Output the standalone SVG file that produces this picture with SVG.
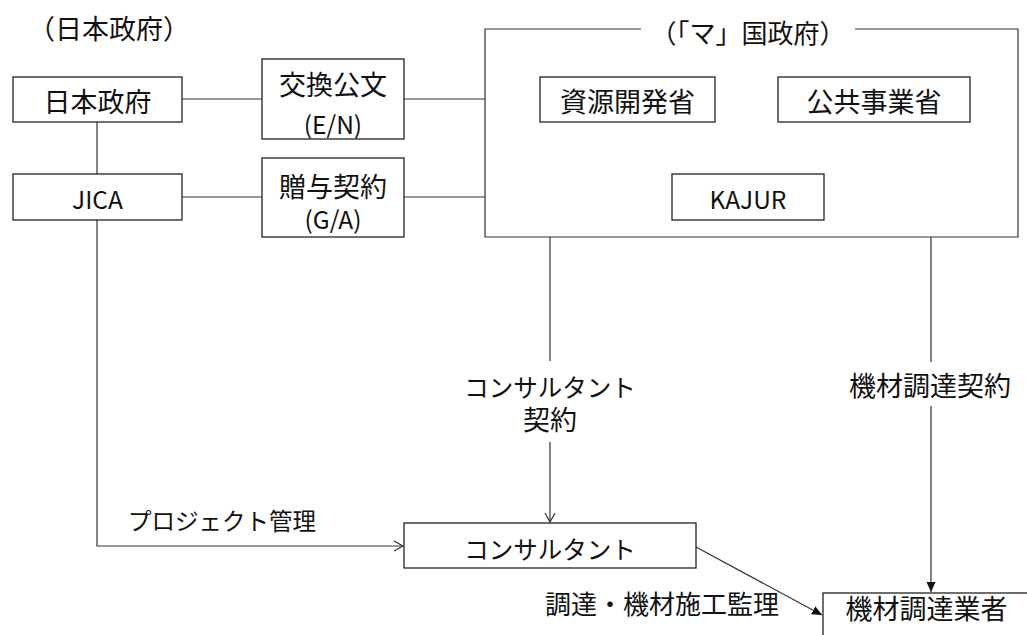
<svg xmlns="http://www.w3.org/2000/svg" width="1027" height="635" viewBox="0 0 1027 635">
<defs>
<style>
.box{fill:#fff;stroke:#222;stroke-width:1.3}
.ln{fill:none;stroke:#333;stroke-width:1.2}
.t{font-family:"Noto Sans CJK JP","Noto Sans",sans-serif;font-size:27px;fill:#111;text-anchor:middle;dominant-baseline:central}
.k{font-family:"Noto Sans CJK JP","Noto Sans",sans-serif;font-size:24.5px;fill:#111;text-anchor:middle;dominant-baseline:central}
.l{font-family:"Noto Sans CJK JP","Noto Sans",sans-serif;font-size:24.5px;fill:#111;text-anchor:middle;dominant-baseline:central}
</style>
<marker id="open" markerWidth="12" markerHeight="12" refX="10" refY="6" orient="auto" markerUnits="userSpaceOnUse">
<path d="M1,1 L10,6 L1,11" fill="none" stroke="#333" stroke-width="1.2"/>
</marker>
<marker id="fill" markerWidth="12" markerHeight="12" refX="10" refY="6" orient="auto" markerUnits="userSpaceOnUse">
<path d="M0,1.5 L10,6 L0,10.5 Z" fill="#111"/>
</marker>
</defs>
<rect width="1027" height="635" fill="#fff"/>
<g id="connectors">
<line class="ln" x1="182" y1="99" x2="262" y2="99"/>
<line class="ln" x1="404" y1="99" x2="485" y2="99"/>
<line class="ln" x1="182" y1="197" x2="262" y2="197"/>
<line class="ln" x1="404" y1="197" x2="485" y2="197"/>
<line class="ln" x1="97" y1="122" x2="97" y2="174"/>
<polyline class="ln" points="97,220 97,546 403,546" marker-end="url(#open)"/>
<line class="ln" x1="550" y1="237" x2="550" y2="361"/>
<line class="ln" x1="550" y1="442" x2="550" y2="522" marker-end="url(#open)"/>
<line class="ln" x1="931" y1="237" x2="931" y2="362"/>
<line class="ln" x1="931" y1="406" x2="931" y2="592" marker-end="url(#fill)"/>
<line class="ln" x1="696" y1="547" x2="822" y2="615" marker-end="url(#fill)"/>
</g>
<g id="label-japan-gov"><text class="t" x="109" y="27">（日本政府）</text></g>
<g id="ma-gov">
<path class="ln" d="M641,29 H485 V237 H1018 V29 H855" stroke="#222" stroke-width="1.3"/>
<text class="k" x="748" y="31" style="font-size:26px">（「マ」国政府）</text>
</g>
<g id="node-japan"><rect class="box" x="13" y="77" width="169" height="45"/><text class="t" x="97.5" y="100">日本政府</text></g>
<g id="node-jica"><rect class="box" x="13" y="174" width="169" height="46"/><text class="l" x="97.5" y="198">JICA</text></g>
<g id="node-en"><rect class="box" x="262" y="59" width="142" height="80"/><text class="t" x="333" y="83">交換公文</text><text class="l" x="333" y="123">(E/N)</text></g>
<g id="node-ga"><rect class="box" x="262" y="158" width="142" height="79"/><text class="t" x="333" y="185">贈与契約</text><text class="l" x="333" y="218">(G/A)</text></g>
<g id="node-mrd"><rect class="box" x="540" y="77" width="175" height="45"/><text class="t" x="627.5" y="100">資源開発省</text></g>
<g id="node-mpw"><rect class="box" x="778" y="77" width="192" height="45"/><text class="t" x="874" y="100">公共事業省</text></g>
<g id="node-kajur"><rect class="box" x="672" y="174" width="152" height="46"/><text class="l" x="748" y="198">KAJUR</text></g>
<g id="node-consultant"><rect class="box" x="404" y="523" width="292" height="45"/><text class="k" x="550" y="548">コンサルタント</text></g>
<g id="node-supplier"><rect class="box" x="823" y="593" width="230" height="70"/><text class="t" x="926.5" y="607">機材調達業者</text></g>
<g id="labels">
<text class="k" x="550" y="386">コンサルタント</text>
<text class="t" x="550" y="418">契約</text>
<text class="t" x="930" y="384">機材調達契約</text>
<text class="k" x="222" y="520" style="font-size:23.5px">プロジェクト管理</text>
<text class="t" x="662" y="602" style="font-size:26px">調達・機材施工監理</text>
</g>
</svg>
